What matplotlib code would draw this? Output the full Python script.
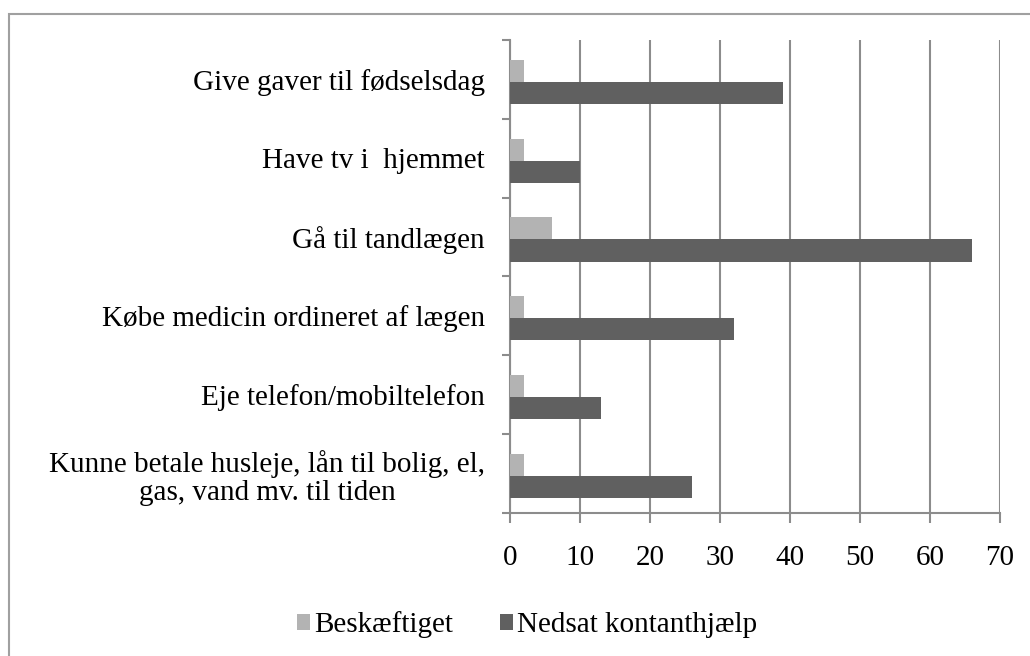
import numpy as np
import matplotlib.pyplot as plt
from matplotlib.patches import Rectangle

# data, top to bottom as shown in the chart
categories = [
    "Give gaver til fødselsdag",
    "Have tv i  hjemmet",
    "Gå til tandlægen",
    "Købe medicin ordineret af lægen",
    "Eje telefon/mobiltelefon",
    "Kunne betale husleje, lån til bolig, el,\ngas, vand mv. til tiden",
]
beskaeftiget = [2, 2, 6, 2, 2, 2]
nedsat_kontanthjaelp = [39, 10, 66, 32, 13, 26]
series_names = ["Beskæftiget", "Nedsat kontanthjælp"]
x_ticks = [0, 10, 20, 30, 40, 50, 60, 70]

plt.rcParams['font.family'] = ['Liberation Serif', 'DejaVu Serif']

light = "#b3b3b3"
dark = "#606060"
grid_col = "#8c8c8c"
fs = 21

fig = plt.figure(figsize=(10.3, 6.56), dpi=100)
ax = fig.add_axes([510 / 1030, 1 - 513 / 656, 490 / 1030, 473 / 656])

y = np.arange(len(categories))
h = 0.28
off = 0.03
ax.barh(y - h / 2 + off, beskaeftiget, height=h, color=light, label=series_names[0], zorder=3)
ax.barh(y + h / 2 + off, nedsat_kontanthjaelp, height=h, color=dark, label=series_names[1], zorder=3)

ax.set_xlim(0, 70)
ax.set_ylim(len(categories) - 0.5, -0.5)
ax.set_xticks(x_ticks)
ax.set_xticklabels([str(t) for t in x_ticks], fontsize=fs)
ax.xaxis.grid(True, color=grid_col, linewidth=1.5, zorder=0)

# category labels at centres, tick marks at category boundaries
ax.set_yticks(y)
ax.set_yticklabels(categories, fontsize=fs, multialignment='center', linespacing=1.12)
ax.tick_params(axis='y', length=0, pad=18)
ax.set_yticks(np.arange(-0.5, len(categories), 1), minor=True)
ax.tick_params(axis='y', which='minor', length=6, width=1.5, color=grid_col, direction='out')
ax.tick_params(axis='x', length=7, width=1.5, color=grid_col, direction='out', pad=16)

for s in ['top', 'right']:
    ax.spines[s].set_visible(False)
for s in ['left', 'bottom']:
    ax.spines[s].set_color(grid_col)
    ax.spines[s].set_linewidth(1.5)

fig.legend(loc='center', bbox_to_anchor=(527 / 1030, 1 - 625 / 656), ncol=2, frameon=False,
           fontsize=fs, handlelength=0.45, handleheight=0.45, handletextpad=0.15, columnspacing=1.6)

# chart border (only top and left edges fall inside the image)
fig.patches.append(Rectangle((9 / 1030, -0.05), 1.1, 1 - 14 / 656 + 0.05, transform=fig.transFigure,
                             fill=False, edgecolor="#a0a0a0", linewidth=1.5))

fig.savefig("out.png", dpi=100)
